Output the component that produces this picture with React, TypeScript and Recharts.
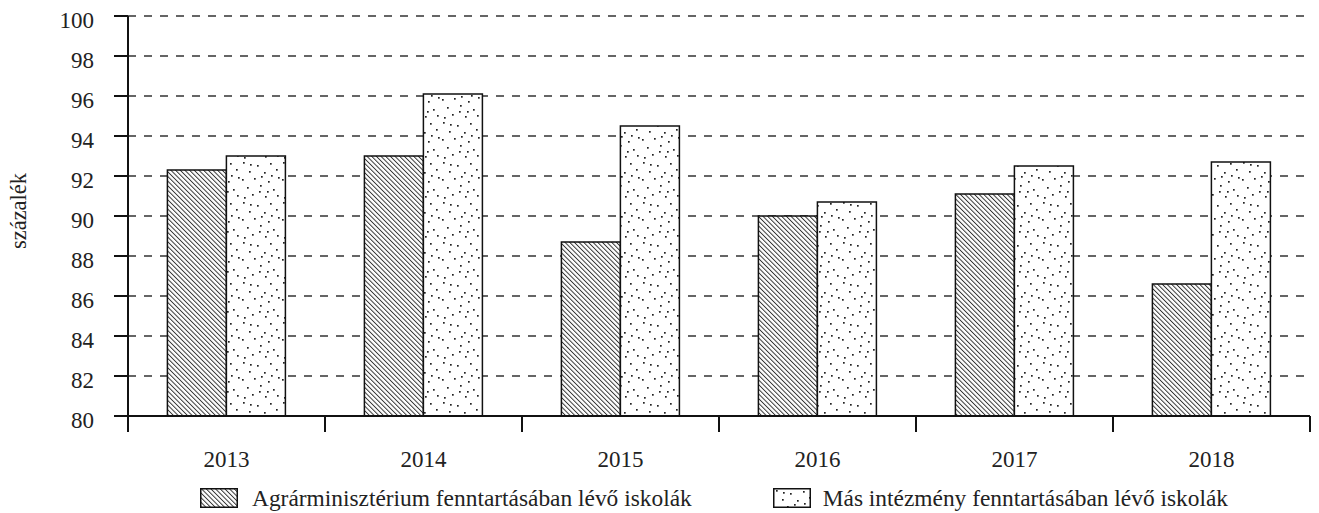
import React from 'react';
import { BarChart, Bar, XAxis, YAxis, CartesianGrid, Legend } from 'recharts';

const years = ['2013', '2014', '2015', '2016', '2017', '2018'];
const agrarValues = [92.3, 93.0, 88.7, 90.0, 91.1, 86.6];
const masValues = [93.0, 96.1, 94.5, 90.7, 92.5, 92.7];
const yTicks = [80, 82, 84, 86, 88, 90, 92, 94, 96, 98, 100];
const seriesNames = [
  'Agrárminisztérium fenntartásában lévő iskolák',
  'Más intézmény fenntartásában lévő iskolák',
];
const yLabel = 'százalék';

const data = years.map((y, i) => ({ year: y, agrar: agrarValues[i], mas: masValues[i] }));

const FONT = 'Liberation Serif, DejaVu Serif, serif';

const dotPositions: [number, number][] = [
  [3, 2], [17, 5], [30, 3], [9, 11], [24, 12], [36, 9], [2, 19], [14, 18],
  [28, 21], [38, 17], [7, 27], [20, 25], [33, 29], [12, 34], [25, 36],
  [37, 35], [4, 37], [19, 31], [31, 15], [21, 16], [10, 4], [27, 31],
];

const Patterns = () => (
  <defs>
    <pattern id="hatch" patternUnits="userSpaceOnUse" width="3.3" height="3.3" patternTransform="rotate(-45)">
      <rect width="3.3" height="3.3" fill="#fff" />
      <line x1="0.5" y1="0" x2="0.5" y2="3.3" stroke="#222" strokeWidth="0.9" />
    </pattern>
    <pattern id="dots" patternUnits="userSpaceOnUse" width="40" height="40">
      <rect width="40" height="40" fill="#fff" />
      {dotPositions.map(([x, y], i) => (
        <rect key={i} x={x} y={y} width="1.7" height="1.7" fill="#222" />
      ))}
    </pattern>
  </defs>
);

const XTick = (props: any) => {
  const { x, y, payload, index, visibleTicksCount } = props;
  const off = payload && payload.offset != null ? payload.offset : 0;
  const isLast = index === visibleTicksCount - 1;
  return (
    <g>
      <line x1={x - off} y1={y} x2={x - off} y2={y + 16} stroke="#111" strokeWidth={2} />
      {isLast && <line x1={x + off} y1={y} x2={x + off} y2={y + 16} stroke="#111" strokeWidth={2} />}
      <text x={x} y={y + 51} textAnchor="middle" style={{ fontFamily: FONT }} fontSize={23} fill="#222">
        {payload.value}
      </text>
    </g>
  );
};

const YTick = (props: any) => {
  const { x, y, payload } = props;
  return (
    <text x={x} y={y + 12} textAnchor="end" style={{ fontFamily: FONT }} fontSize={23} fill="#222">
      {payload.value}
    </text>
  );
};

const LegendContent = () => (
  <div
    style={{
      height: 40,
      boxSizing: 'border-box',
      paddingTop: 10,
      paddingLeft: 200,
      display: 'flex',
      alignItems: 'center',
      fontFamily: FONT,
      fontSize: 23.4,
      color: '#222',
      whiteSpace: 'nowrap',
    }}
  >
    <svg width={38} height={20} style={{ marginRight: 14, flex: 'none' }}>
      <Patterns />
      <rect x={0.75} y={0.75} width={36.5} height={18.5} fill="url(#hatch)" stroke="#111" strokeWidth={1.5} />
    </svg>
    <span style={{ marginRight: 81 }}>{seriesNames[0]}</span>
    <svg width={38} height={20} style={{ marginRight: 12, flex: 'none' }}>
      <rect x={0.75} y={0.75} width={36.5} height={18.5} fill="url(#dots)" stroke="#111" strokeWidth={1.5} />
    </svg>
    <span>{seriesNames[1]}</span>
  </div>
);

const YLabel = () => (
  <text transform="translate(26,211) rotate(-90)" textAnchor="middle" style={{ fontFamily: FONT }} fontSize={22.5} fill="#222">
    {yLabel}
  </text>
);

export default function App() {
  return (
    <div style={{ position: 'absolute', left: 0, top: 0, background: '#fff', fontFamily: FONT }}>
      <BarChart
        width={1319}
        height={513}
        data={data}
        margin={{ top: 16, right: 9, left: 0, bottom: 0 }}
        barCategoryGap="20%"
        barGap={0}
        style={{ fontFamily: FONT }}
      >
        <Patterns />
        <CartesianGrid horizontal vertical={false} stroke="#333" strokeWidth={1.4} strokeDasharray="8 8" />
        <XAxis
          dataKey="year"
          height={57}
          tickSize={0}
          tickMargin={0}
          tickLine={false}
          axisLine={{ stroke: '#111', strokeWidth: 2 }}
          tick={<XTick />}
          interval={0}
        />
        <YAxis
          width={128}
          domain={[80, 100]}
          ticks={yTicks}
          allowDataOverflow
          tickSize={14}
          tickMargin={20}
          tickLine={{ stroke: '#111', strokeWidth: 2 }}
          axisLine={{ stroke: '#111', strokeWidth: 2 }}
          tick={<YTick />}
          interval={0}
          label={{ content: () => <YLabel /> }}
        />
        <Legend verticalAlign="bottom" content={() => <LegendContent />} />
        <Bar dataKey="agrar" name={seriesNames[0]} fill="url(#hatch)" stroke="#111" strokeWidth={1.5} isAnimationActive={false} />
        <Bar dataKey="mas" name={seriesNames[1]} fill="url(#dots)" stroke="#111" strokeWidth={1.5} isAnimationActive={false} />
      </BarChart>
    </div>
  );
}
